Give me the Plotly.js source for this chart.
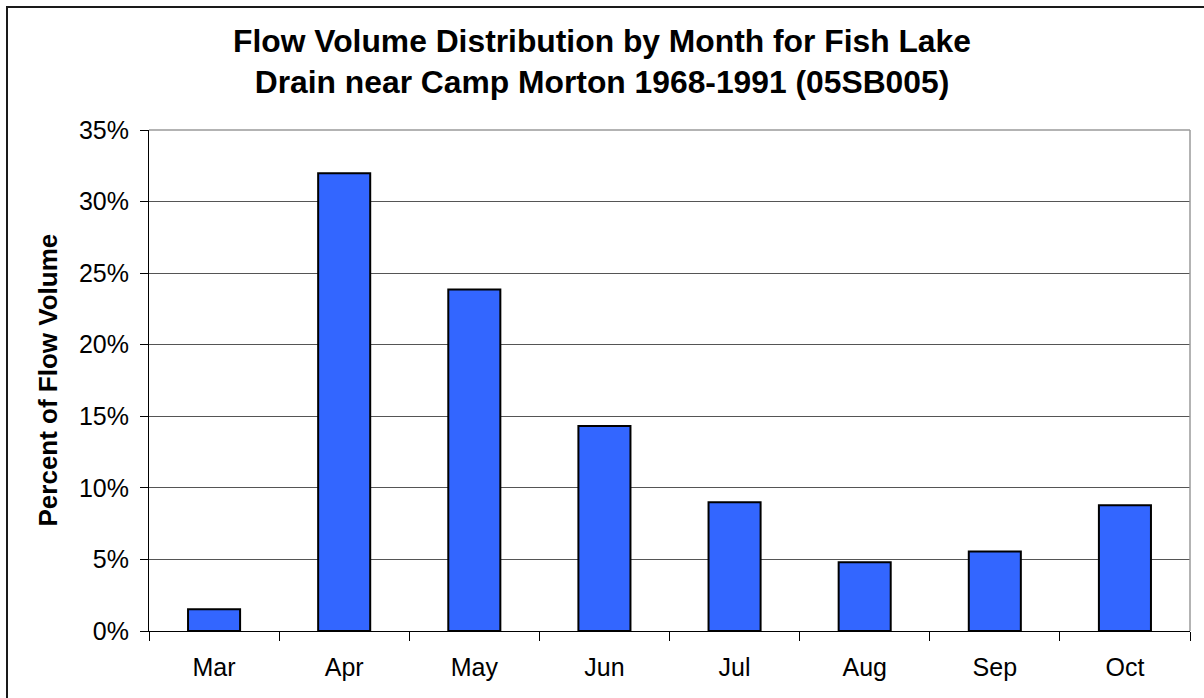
<!DOCTYPE html>
<html>
<head>
<meta charset="utf-8">
<script src="https://cdn.plot.ly/plotly-3.0.1.min.js"></script>
<style>
  html, body { margin: 0; padding: 0; background: #fff; }
  #wrap { position: relative; width: 1204px; height: 698px; overflow: hidden; }
  #chart { position: absolute; left: 0; top: 0; width: 1204px; height: 698px; }
  #frame { position: absolute; left: 6px; top: 6px; width: 1300px; height: 800px;
           border-left: 2px solid #1a1a1a; border-top: 2px solid #1a1a1a; pointer-events: none; }
</style>
</head>
<body>
<div id="wrap">
  <div id="chart"></div>
  <div id="frame"></div>
</div>
<script>
const months = ["Mar", "Apr", "May", "Jun", "Jul", "Aug", "Sep", "Oct"];
const flowShare = [0.0152, 0.3197, 0.2386, 0.1432, 0.0900, 0.0480, 0.0556, 0.0878];
const yTickVals = [0, 0.05, 0.10, 0.15, 0.20, 0.25, 0.30, 0.35];
const yTickText = ["0%", "5%", "10%", "15%", "20%", "25%", "30%", "35%"];
const chartTitle = "Flow Volume Distribution by Month for Fish Lake<br>Drain near Camp Morton 1968-1991 (05SB005)";
const yTitle = "Percent of Flow Volume";

const font = "Arial, 'Liberation Sans', sans-serif";

const trace = {
  type: "bar",
  x: months,
  y: flowShare,
  width: 0.4,
  marker: { color: "#3366FF", line: { color: "#000000", width: 2 } },
  hoverinfo: "x+y"
};

const layout = {
  width: 1204,
  height: 698,
  margin: { l: 149, r: 14, t: 130, b: 67, pad: 0 },
  paper_bgcolor: "#ffffff",
  plot_bgcolor: "#ffffff",
  showlegend: false,
  title: {
    text: chartTitle,
    font: { family: font, size: 31.8, color: "#000000", weight: "bold" },
    xref: "container", x: 0.5, xanchor: "center",
    yref: "container", y: 1 - 52 / 698, yanchor: "middle"
  },
  xaxis: {
    type: "category",
    showline: true, linecolor: "#000000", linewidth: 1,
    ticks: "outside", tickson: "boundaries", ticklen: 9, tickcolor: "#000000", tickwidth: 1,
    ticklabelstandoff: 14,
    showgrid: false, zeroline: false,
    tickfont: { family: font, size: 25, color: "#000000" },
    range: [-0.5, 7.5]
  },
  yaxis: {
    range: [0, 0.35],
    tickvals: yTickVals,
    ticktext: yTickText,
    showline: true, linecolor: "#000000", linewidth: 1,
    ticks: "outside", ticklen: 8, tickcolor: "#000000", tickwidth: 1,
    ticklabelstandoff: 6,
    showgrid: true, gridcolor: "#555555", gridwidth: 1,
    zeroline: false,
    tickfont: { family: font, size: 25, color: "#000000" }
  },
  shapes: [
    { type: "line", xref: "paper", yref: "paper", x0: 0, x1: 1, y0: 1, y1: 1,
      line: { color: "#9a9a9a", width: 1.5 } },
    { type: "line", xref: "paper", yref: "paper", x0: 1, x1: 1, y0: 0, y1: 1,
      line: { color: "#9a9a9a", width: 1.5 } }
  ],
  annotations: [
    { text: yTitle, xref: "paper", yref: "paper", x: (47 - 149) / 1041, y: 0.5,
      xanchor: "center", yanchor: "middle", textangle: -90, showarrow: false,
      font: { family: font, size: 26, color: "#000000", weight: "bold" } }
  ],
  bargap: 0.6
};

Plotly.newPlot("chart", [trace], layout, { displayModeBar: false, staticPlot: true });
</script>
</body>
</html>
